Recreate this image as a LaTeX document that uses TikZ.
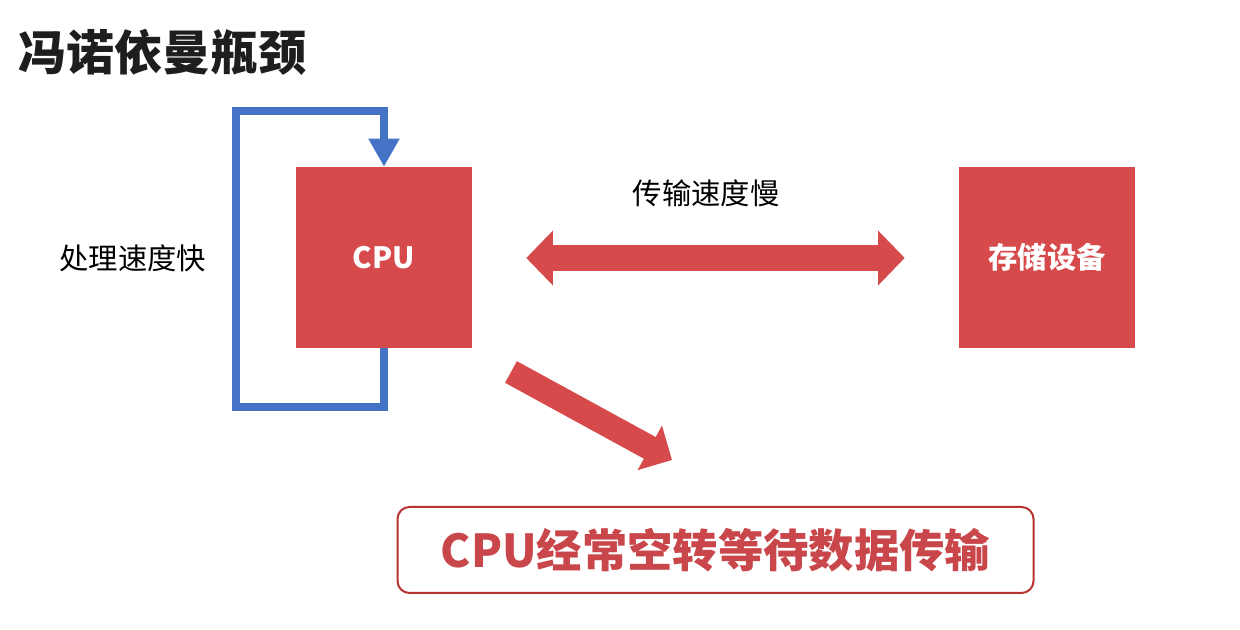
\documentclass[tikz,border=0pt]{standalone}
\usepackage{fontspec}
\setmainfont{Noto Sans CJK SC}
\usetikzlibrary{arrows.meta,calc}
\definecolor{boxred}{HTML}{D64A4B}
\definecolor{loopblue}{HTML}{4472C4}
\definecolor{frame}{HTML}{B73432}
\definecolor{msgred}{HTML}{C9464A}
\definecolor{titleblk}{HTML}{1E1E1E}
\tikzset{
  unit/.style={draw=none,fill=boxred,minimum width=132pt,minimum height=135.75pt,inner sep=0pt,text=white,font=\fontsize{22}{26}\selectfont\bfseries},
  label/.style={font=\fontsize{22}{26}\selectfont,text=black,inner sep=0pt},
  dblarrow/.style={draw=boxred,line width=20pt,{Triangle[width=40pt,length=20pt]}-{Triangle[width=40pt,length=20pt]}},
  diagarrow/.style={draw=boxred,line width=18.5pt,-{Triangle[width=37pt,length=19pt]}},
  loopline/.style={draw=loopblue,line width=6pt,miter limit=10,-{Triangle[width=22pt,length=21pt]}},
  msgbox/.style={draw=frame,line width=1.5pt,rounded corners=9pt,minimum width=477pt,minimum height=64.5pt,inner sep=0pt,text=msgred,font=\fontsize{34}{40}\selectfont\bfseries},
}
\begin{document}
\begin{tikzpicture}[x=0.75pt,y=-0.75pt]
\useasboundingbox (0,0) rectangle (1240,630);
\node[anchor=west,inner sep=0pt,text=titleblk,font=\fontsize{36}{42}\selectfont\bfseries] (title) at (18,52) {冯诺依曼瓶颈};
\node[unit] (cpu) at (384,257.5) {CPU};
\node[unit] (store) at (1047,257.5) {存储设备};
\node[label] (fast) at (133,258) {处理速度快};
\node[label] (slow) at (706,193) {传输速度慢};
\coordinate (lb) at (236,407);
\coordinate (lt) at (236,111);
\draw[loopline] (cpu.south) |- (lb) -- (lt) -| (cpu.north);
\draw[dblarrow] ($(cpu.east)+(54,0.5)$) -- ($(store.west)+(-54,0.5)$);
\coordinate (ds) at (511,372);
\coordinate (de) at (672,460);
\draw[diagarrow] (ds) -- (de);
\node[msgbox] (msg) at (715.5,550) {CPU经常空转等待数据传输};
\end{tikzpicture}
\end{document}
